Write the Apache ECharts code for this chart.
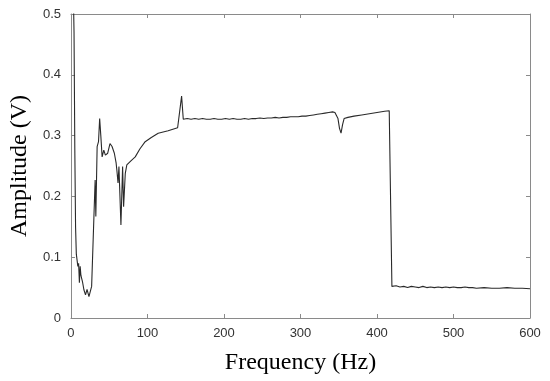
<!DOCTYPE html>
<html><head><meta charset="utf-8">
<script src="https://cdn.jsdelivr.net/npm/echarts@6/dist/echarts.min.js"></script>
<style>html,body{margin:0;padding:0;background:#fff}#c{width:550px;height:381px}</style>
</head><body><div id="c"></div>
<script>
var freq = [0,2,3,4,5,6,7,8,9,10,11,12,13,14,15,17,19,21,22,23.5,25,27,28.5,30,31.6,32.5,34.2,36,37.5,39,40.7,42.9,45,48,51,53.7,56.7,59,60,61.5,62.7,65.3,67.5,68.8,71,73,75,78,84,90,97,105,114,127,139.4,141,144.6,146.8,
152,157,162,167,172,177,182,187,192,197,202,207,212,217,222,227,232,237,242,247,252,257,262,267,272,277,282,287,292,297,302,307,312,317,322,327,332,337,342,345,347,349,351,353,355,357,362,370,380,390,400,410,416,418,419.5,
425,430,435,440,445,450,455,460,465,470,475,480,485,490,495,500,505,510,515,520,525,530,540,550,560,570,580,590,600];
var amp = [0.62,0.58,0.54,0.47,0.28,0.15,0.105,0.102,0.085,0.09,0.058,0.085,0.07,0.068,0.06,0.046,0.038,0.047,0.046,0.035,0.036,0.052,0.053,0.167,0.227,0.167,0.282,0.29,0.328,0.30,0.265,0.276,0.268,0.271,0.287,0.282,0.271,0.255,0.243,0.222,0.249,0.153,0.249,0.183,0.238,0.252,0.255,0.258,0.265,0.278,0.290,0.297,0.304,0.308,0.313,0.315,0.365,0.327,
0.328,0.327,0.328,0.327,0.328,0.327,0.327,0.328,0.327,0.327,0.328,0.327,0.328,0.327,0.327,0.328,0.327,0.328,0.328,0.329,0.328,0.329,0.329,0.330,0.329,0.330,0.330,0.331,0.331,0.331,0.332,0.332,0.333,0.334,0.335,0.336,0.337,0.338,0.339,0.338,0.336,0.328,0.312,0.304,0.318,0.328,0.330,0.332,0.334,0.336,0.338,0.340,0.341,0.340,0.052,
0.053,0.051,0.052,0.050,0.052,0.051,0.050,0.052,0.050,0.051,0.050,0.051,0.050,0.051,0.050,0.051,0.050,0.050,0.051,0.050,0.050,0.049,0.050,0.049,0.049,0.050,0.049,0.049,0.048];
var xTicks = [0,100,200,300,400,500,600];
var yTicks = [0,0.1,0.2,0.3,0.4,0.5];

var data = freq.map(function(f,i){return [f, amp[i]];});
var axisCol = '#8a8a8a';
var lblFont = {fontFamily:'Liberation Sans', fontSize:13, color:'#333'};
function baseX(pos, show){
  return {type:'value', position:pos, min:xTicks[0], max:xTicks[xTicks.length-1], interval:100,
    axisLine:{show:true, onZero:false, lineStyle:{color:axisCol, width:1}},
    axisTick:{show:true, inside:true, length:4, lineStyle:{color:axisCol}},
    axisLabel:Object.assign({show:show, margin:9}, lblFont),
    splitLine:{show:false}};
}
function baseY(pos, show){
  return {type:'value', position:pos, min:yTicks[0], max:yTicks[yTicks.length-1], interval:0.1,
    axisLine:{show:true, onZero:false, lineStyle:{color:axisCol, width:1}},
    axisTick:{show:true, inside:true, length:4, lineStyle:{color:axisCol}},
    axisLabel:Object.assign({show:show, margin:10, formatter:function(v){return v===0?'0':v.toFixed(1);}}, lblFont),
    splitLine:{show:false}};
}
var x0 = baseX('bottom', true);
x0.name = 'Frequency (Hz)'; x0.nameLocation='middle'; x0.nameGap=33;
x0.nameTextStyle = {fontFamily:'Liberation Serif', fontSize:24, color:'#000'};
var x1 = baseX('top', false);
var y0 = baseY('left', true);
y0.name = 'Amplitude (V)'; y0.nameLocation='middle'; y0.nameGap=34;
y0.nameTextStyle = {fontFamily:'Liberation Serif', fontSize:24, color:'#000'};
var y1 = baseY('right', false);

var chart = echarts.init(document.getElementById('c'), null, {renderer:'canvas'});
chart.setOption({
  animation:false,
  backgroundColor:'#fff',
  grid:{left:68, right:20, top:14, bottom:63, containLabel:false},
  xAxis:[x0, x1],
  yAxis:[y0, y1],
  series:[{type:'line', data:data, xAxisIndex:0, yAxisIndex:0, showSymbol:false, symbol:'none',
    clip:true, lineStyle:{color:'#2a2a2a', width:1.1}}]
});
</script></body></html>
